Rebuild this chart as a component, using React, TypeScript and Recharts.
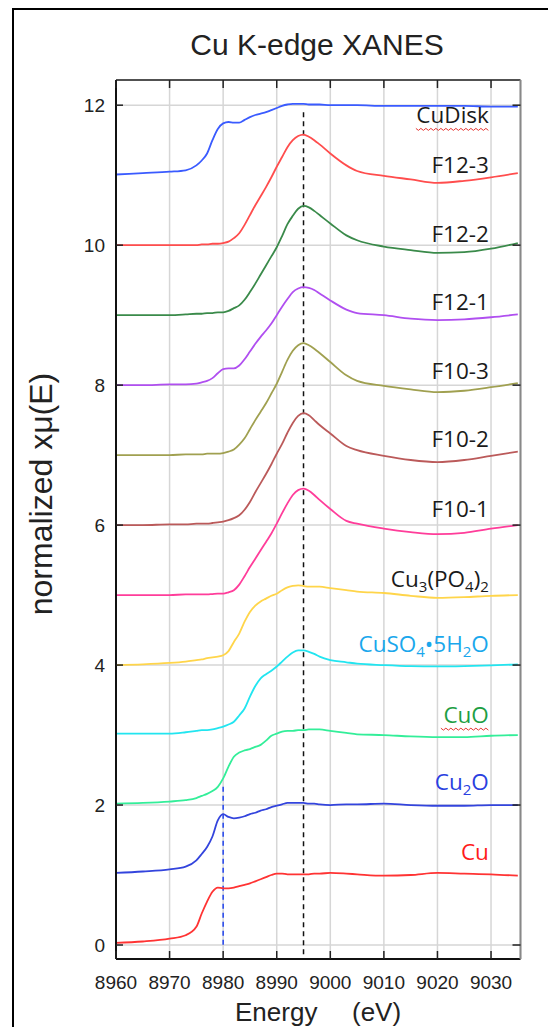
import React from 'react';
import { LineChart, Line, XAxis, YAxis, CartesianGrid, ReferenceLine, ReferenceDot } from 'recharts';

// energy grid (eV)
const energy = [
  8960, 8965, 8970, 8973, 8975, 8976, 8977, 8978, 8979, 8980, 8981, 8982, 8983, 8984, 8985, 8986, 8987, 8988,
  8989, 8990, 8991, 8992, 8993, 8994, 8995, 8996, 8997, 8998, 9000, 9003, 9005, 9010, 9015, 9020, 9025, 9030, 9035,
];

// normalized xmu(E) per sample, before vertical offset
const cu = [0.03, 0.05, 0.09, 0.14, 0.26, 0.45, 0.62, 0.76, 0.82, 0.81, 0.81, 0.82, 0.84, 0.86, 0.88, 0.91, 0.94, 0.97, 1.0, 1.02, 1.02, 1.01, 1.01, 1.01, 1.01, 1.01, 1.02, 1.02, 1.03, 1.02, 1.01, 0.99, 1.0, 1.03, 1.02, 1.01, 0.99];
const cu2o = [0.03, 0.05, 0.08, 0.12, 0.21, 0.3, 0.4, 0.55, 0.78, 0.87, 0.83, 0.81, 0.82, 0.84, 0.87, 0.89, 0.92, 0.94, 0.97, 0.99, 1.01, 1.03, 1.03, 1.03, 1.03, 1.02, 1.02, 1.01, 1.0, 1.01, 1.01, 1.02, 1.0, 0.99, 0.99, 1.0, 1.0];
const cuo = [0.02, 0.03, 0.05, 0.07, 0.1, 0.13, 0.16, 0.2, 0.26, 0.38, 0.55, 0.69, 0.75, 0.78, 0.8, 0.83, 0.86, 0.92, 0.99, 1.02, 1.05, 1.06, 1.06, 1.07, 1.07, 1.08, 1.08, 1.08, 1.06, 1.03, 1.01, 1.0, 0.98, 0.97, 0.97, 0.99, 1.0];
const cuso4 = [0.02, 0.02, 0.02, 0.04, 0.06, 0.07, 0.07, 0.08, 0.1, 0.12, 0.15, 0.19, 0.28, 0.38, 0.55, 0.7, 0.81, 0.87, 0.92, 0.98, 1.05, 1.12, 1.18, 1.21, 1.21, 1.19, 1.16, 1.12, 1.07, 1.04, 1.02, 1.0, 0.985, 0.98, 0.985, 0.995, 1.01];
const cu3po4 = [0.0, 0.01, 0.03, 0.05, 0.07, 0.08, 0.1, 0.11, 0.12, 0.14, 0.2, 0.33, 0.45, 0.62, 0.76, 0.85, 0.91, 0.95, 0.99, 1.02, 1.07, 1.11, 1.13, 1.14, 1.13, 1.12, 1.12, 1.12, 1.1, 1.07, 1.05, 1.03, 0.99, 0.96, 0.97, 0.99, 1.0];
const f101 = [0, 0, 0, 0.01, 0.01, 0.01, 0.01, 0.015, 0.02, 0.02, 0.04, 0.07, 0.15, 0.27, 0.4, 0.52, 0.64, 0.76, 0.88, 1.02, 1.17, 1.31, 1.43, 1.5, 1.52, 1.49, 1.43, 1.36, 1.23, 1.06, 1.02, 0.95, 0.9, 0.87, 0.89, 0.95, 1.0];
const f102 = [0, 0, 0.01, 0.01, 0.02, 0.02, 0.02, 0.03, 0.04, 0.05, 0.07, 0.1, 0.14, 0.22, 0.33, 0.47, 0.6, 0.73, 0.87, 1.02, 1.16, 1.32, 1.46, 1.56, 1.6, 1.57, 1.5, 1.43, 1.31, 1.13, 1.07, 0.99, 0.93, 0.9, 0.93, 0.99, 1.05];
const f103 = [0, 0, 0, 0.01, 0.01, 0.01, 0.02, 0.02, 0.02, 0.03, 0.05, 0.08, 0.15, 0.24, 0.37, 0.5, 0.62, 0.74, 0.88, 1.02, 1.19, 1.36, 1.49, 1.57, 1.6, 1.57, 1.52, 1.46, 1.33, 1.14, 1.06, 0.99, 0.94, 0.9, 0.92, 0.97, 1.03];
const f121 = [0, 0, 0.01, 0.01, 0.02, 0.04, 0.06, 0.1, 0.17, 0.23, 0.24, 0.24, 0.28, 0.37, 0.48, 0.59, 0.69, 0.78, 0.88, 1.0, 1.12, 1.23, 1.33, 1.38, 1.4, 1.39, 1.36, 1.31, 1.21, 1.08, 1.03, 1.0, 0.95, 0.93, 0.94, 0.97, 1.01];
const f122 = [0, 0, 0, 0.01, 0.02, 0.02, 0.03, 0.03, 0.04, 0.04, 0.06, 0.1, 0.14, 0.22, 0.33, 0.45, 0.58, 0.71, 0.84, 0.97, 1.13, 1.3, 1.42, 1.52, 1.56, 1.54, 1.49, 1.43, 1.31, 1.14, 1.07, 0.98, 0.93, 0.89, 0.9, 0.95, 1.03];
const f123 = [0, 0, 0, 0, 0, 0.01, 0.01, 0.02, 0.02, 0.03, 0.05, 0.1, 0.17, 0.29, 0.43, 0.57, 0.7, 0.83, 0.97, 1.12, 1.26, 1.4, 1.5, 1.56, 1.58, 1.55, 1.5, 1.44, 1.31, 1.14, 1.06, 0.99, 0.94, 0.89, 0.92, 0.97, 1.03];
const cudisk = [0.01, 0.03, 0.05, 0.07, 0.14, 0.21, 0.31, 0.5, 0.66, 0.74, 0.76, 0.75, 0.75, 0.79, 0.83, 0.86, 0.88, 0.9, 0.93, 0.96, 0.99, 1.01, 1.02, 1.02, 1.02, 1.01, 1.01, 1.01, 1.0, 1.0, 1.0, 0.99, 0.99, 0.99, 0.99, 0.98, 0.98];

const xTicks = [8960, 8970, 8980, 8990, 9000, 9010, 9020, 9030];
const yTicks = [0, 2, 4, 6, 8, 10, 12];

// "_n" marks a subscript digit
const series = [
  { key: 'cu', label: 'Cu', values: cu, offset: 0, color: '#ff3333', labelColor: '#ff1a1a', labelY: 1.21 },
  { key: 'cu2o', label: 'Cu_2O', values: cu2o, offset: 1, color: '#3344dd', labelColor: '#2a3fe0', labelY: 2.21 },
  { key: 'cuo', label: 'CuO', values: cuo, offset: 2, color: '#33ee99', labelColor: '#1e9e44', labelY: 3.17, wavy: 48 },
  { key: 'cuso4', label: 'CuSO_4•5H_2O', values: cuso4, offset: 3, color: '#22e5f0', labelColor: '#1aa7ec', labelY: 4.19 },
  { key: 'cu3po4', label: 'Cu_3(PO_4)_2', values: cu3po4, offset: 4, color: '#ffd54a', labelColor: '#1a1a1a', labelY: 5.11 },
  { key: 'f101', label: 'F10-1', values: f101, offset: 5, color: '#ff3d9a', labelColor: '#1a1a1a', labelY: 6.11 },
  { key: 'f102', label: 'F10-2', values: f102, offset: 6, color: '#bb5a5a', labelColor: '#1a1a1a', labelY: 7.11 },
  { key: 'f103', label: 'F10-3', values: f103, offset: 7, color: '#a0a050', labelColor: '#1a1a1a', labelY: 8.09 },
  { key: 'f121', label: 'F12-1', values: f121, offset: 8, color: '#b04ff0', labelColor: '#1a1a1a', labelY: 9.07 },
  { key: 'f122', label: 'F12-2', values: f122, offset: 9, color: '#3a8a4a', labelColor: '#1a1a1a', labelY: 10.04 },
  { key: 'f123', label: 'F12-3', values: f123, offset: 10, color: '#ff4d4d', labelColor: '#1a1a1a', labelY: 11.03 },
  { key: 'cudisk', label: 'CuDisk', values: cudisk, offset: 11, color: '#3a5bff', labelColor: '#1a1a1a', labelY: 11.74, wavy: 73 },
];

const data = energy.map((e, i) => {
  const row: Record<string, number> = { energy: e };
  series.forEach((s) => {
    row[s.key] = s.values[i] + s.offset;
  });
  return row;
});

const tickFont = '"Liberation Sans", Arial, sans-serif';
const labelFont = '"Open Sans", "Noto Sans", sans-serif';

const BottomTick = (p: any) => (
  <g>
    <line x1={p.x} x2={p.x} y1={p.y} y2={p.y - 8} stroke="#222" strokeWidth={1.5} />
    <text x={p.x} y={p.y + 30} textAnchor="middle" fontFamily={tickFont} fontSize={19} fill="#222">
      {p.payload.value}
    </text>
  </g>
);

const TopTick = (p: any) => (
  <line x1={p.x} x2={p.x} y1={p.y} y2={p.y + 8} stroke="#222" strokeWidth={1.5} />
);

const LeftTick = (p: any) => (
  <g>
    <line x1={p.x} x2={p.x + 7} y1={p.y} y2={p.y} stroke="#222" strokeWidth={1.5} />
    <text x={p.x - 11} y={p.y + 7} textAnchor="end" fontFamily={tickFont} fontSize={19} fill="#222">
      {p.payload.value}
    </text>
  </g>
);

const RightTick = (p: any) => (
  <line x1={p.x} x2={p.x - 8} y1={p.y} y2={p.y} stroke="#222" strokeWidth={1.5} />
);

function labelParts(text: string) {
  const parts = text.split(/(_\d)/).filter(Boolean);
  let prevSub = false;
  return parts.map((part, i) => {
    if (part.startsWith('_')) {
      prevSub = true;
      return (
        <tspan key={i} fontSize={15} dy={5}>
          {part.slice(1)}
        </tspan>
      );
    }
    const dy = prevSub ? -5 : 0;
    prevSub = false;
    return (
      <tspan key={i} dy={dy}>
        {part}
      </tspan>
    );
  });
}

// spell-check style squiggle under a label
function squiggle(cx: number, cy: number, w: number) {
  let d = `M ${cx - w} ${cy + 5}`;
  const n = Math.floor(w / 2.5);
  for (let i = 1; i <= n; i++) {
    d += ` L ${cx - w + i * 2.5} ${cy + 5 + (i % 2 ? 2 : 0)}`;
  }
  return d;
}

const SeriesLabel = ({ cx, cy, text, color, wavy }: any) => (
  <g>
    <text x={cx} y={cy} textAnchor="end" fontFamily={labelFont} fontSize={22.5} fill={color}>
      {labelParts(text)}
    </text>
    {wavy ? <path d={squiggle(cx, cy, wavy)} fill="none" stroke="#e53935" strokeWidth={1} /> : null}
  </g>
);

export default function App() {
  return (
    <div style={{ position: 'absolute', left: 0, top: 0, width: 548, height: 1027, overflow: 'hidden', background: '#fff' }}>
      <div
        style={{
          position: 'absolute',
          left: 12,
          top: 8,
          width: 600,
          height: 1100,
          borderLeft: '2px solid #000',
          borderTop: '2px solid #000',
        }}
      />
      <LineChart
        width={548}
        height={1027}
        data={data}
        margin={{ top: 70, right: 17, bottom: 38, left: 76 }}
        style={{ position: 'absolute', left: 0, top: 0 }}
      >
        <CartesianGrid stroke="#d6d6d6" strokeWidth={1.5} />
        <XAxis
          dataKey="energy"
          type="number"
          domain={[8960, 9035.5]}
          allowDataOverflow
          ticks={xTicks}
          interval={0}
          height={30}
          tickSize={0}
          tickMargin={0}
          tickLine={false}
          tick={BottomTick}
          axisLine={{ stroke: '#111', strokeWidth: 2 }}
        />
        <XAxis
          xAxisId="top"
          orientation="top"
          dataKey="energy"
          type="number"
          domain={[8960, 9035.5]}
          allowDataOverflow
          ticks={xTicks}
          interval={0}
          height={10}
          tickSize={0}
          tickMargin={0}
          tickLine={false}
          tick={TopTick}
          axisLine={{ stroke: '#222', strokeWidth: 1.5 }}
        />
        <YAxis
          type="number"
          domain={[-0.2, 12.36]}
          allowDataOverflow
          ticks={yTicks}
          interval={0}
          width={40}
          tickSize={0}
          tickMargin={0}
          tickLine={false}
          tick={LeftTick}
          axisLine={{ stroke: '#111', strokeWidth: 2 }}
        />
        <YAxis
          yAxisId="right"
          orientation="right"
          type="number"
          domain={[-0.2, 12.36]}
          allowDataOverflow
          ticks={yTicks}
          interval={0}
          width={10.5}
          tickSize={0}
          tickMargin={0}
          tickLine={false}
          tick={RightTick}
          axisLine={{ stroke: '#888', strokeWidth: 2 }}
        />
        <ReferenceLine
          segment={[{ x: 8995, y: 11.9 }, { x: 8995, y: -0.2 }]}
          stroke="#111"
          strokeWidth={1.5}
          strokeDasharray="5 4"
        />
        <ReferenceLine
          segment={[{ x: 8980, y: 2.26 }, { x: 8980, y: 0 }]}
          stroke="#2244ee"
          strokeWidth={1.5}
          strokeDasharray="5 4"
        />
        {series.map((s) => (
          <Line
            key={s.key}
            dataKey={s.key}
            type="monotone"
            stroke={s.color}
            strokeWidth={1.8}
            dot={false}
            isAnimationActive={false}
          />
        ))}
        {series.map((s) => (
          <ReferenceDot
            key={'lbl-' + s.key}
            x={9029.6}
            y={s.labelY}
            r={0}
            stroke="none"
            fill="none"
            shape={(p: any) => <SeriesLabel cx={p.cx} cy={p.cy} text={s.label} color={s.labelColor} wavy={s.wavy} />}
          />
        ))}
      </LineChart>
      <svg width={548} height={1027} style={{ position: 'absolute', left: 0, top: 0, pointerEvents: 'none' }}>
        <text x={317} y={55} textAnchor="middle" fontFamily={tickFont} fontSize={30} fill="#222">
          Cu K-edge XANES
        </text>
        <text
          x={52}
          y={494}
          transform="rotate(-90 52 494)"
          textAnchor="middle"
          fontFamily={tickFont}
          fontSize={32}
          fill="#222"
        >
          normalized xμ(E)
        </text>
        <text x={235} y={1021} fontFamily={tickFont} fontSize={26} fill="#222">
          Energy
        </text>
        <text x={352} y={1021} fontFamily={tickFont} fontSize={26} fill="#222">
          (eV)
        </text>
      </svg>
    </div>
  );
}
